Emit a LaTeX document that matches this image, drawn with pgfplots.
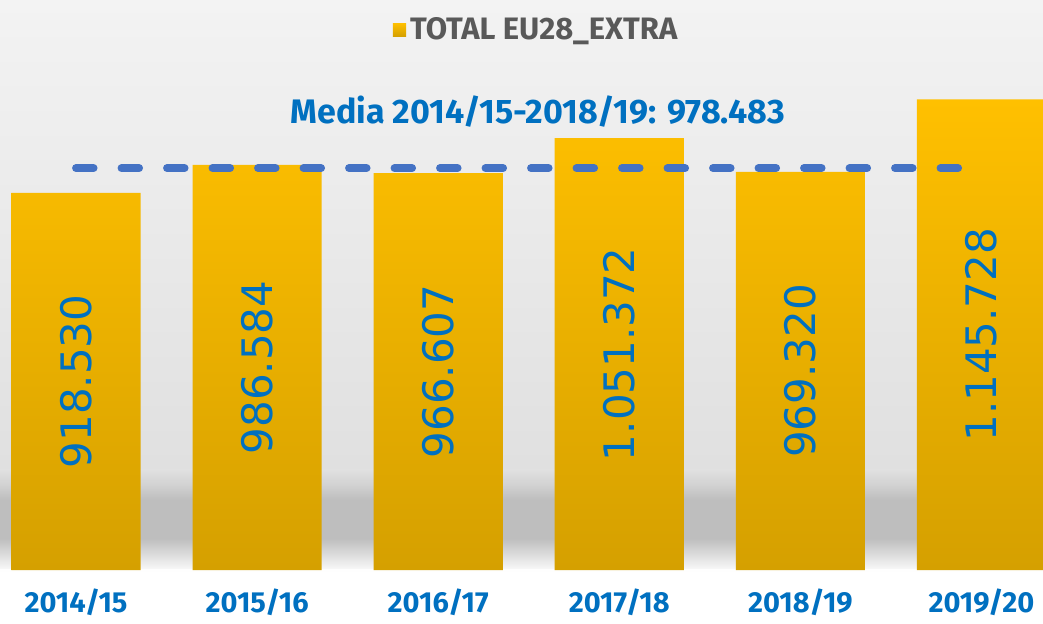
\documentclass[border=0pt]{standalone}
\usepackage{fontspec}
\setmainfont{Fira Sans}
\newfontfamily\valfont{DejaVu Sans}
\usepackage{pgfplots}
\usepackage{pgfplotstable}
\pgfplotsset{compat=1.18}
\definecolor{barTop}{RGB}{255,192,0}
\definecolor{barBot}{RGB}{213,160,0}
\definecolor{valBlue}{RGB}{0,112,192}
\definecolor{dashBlue}{RGB}{68,114,196}
\definecolor{legGray}{RGB}{89,89,89}
\definecolor{bgTop}{RGB}{243,243,243}
\definecolor{bgMid}{RGB}{224,224,224}
\definecolor{shA}{RGB}{190,190,190}
\definecolor{shC}{RGB}{210,210,210}
\definecolor{shB}{RGB}{246,246,246}
\pgfdeclareverticalshading{bgshade}{100bp}{color(0bp)=(white); color(29bp)=(white); color(37.5bp)=(bgMid); color(75bp)=(bgTop); color(100bp)=(bgTop)}
\pgfdeclareverticalshading{shadowband}{100bp}{color(0bp)=(shB); color(25bp)=(shB); color(40bp)=(shA); color(60bp)=(shA); color(67.5bp)=(shC); color(75bp)=(bgMid); color(100bp)=(bgMid)}

\pgfplotstableread{
x y label
0 918530 918.530
1 986584 986.584
2 966607 966.607
3 1051372 1.051.372
4 969320 969.320
5 1145728 1.145.728
}\datatable

\begin{document}
\begin{tikzpicture}
\shade[shading=bgshade] (0,-26.5pt) rectangle (521.5pt,285pt);
\shade[shading=shadowband] (0,1pt) rectangle (521.5pt,50pt);
\path[use as bounding box] (0,-26.5pt) rectangle (521.5pt,285pt);
\begin{axis}[
  scale only axis,
  width=521.5pt, height=285pt,
  xmin=-0.42, xmax=5.34,
  ymin=0, ymax=1388000,
  axis line style={draw=none},
  major tick length=0pt,
  ytick=\empty,
  xtick={0,1,2,3,4,5},
  xticklabels={2014/15,2015/16,2016/17,2017/18,2018/19,2019/20},
  xticklabel style={font=\fontsize{14.5}{17}\selectfont\bfseries, text=valBlue, anchor=north, yshift=-6pt},
  legend style={at={(0.515,0.948)}, anchor=center, draw=none, fill=none,
    font=\fontsize{15.5}{18}\selectfont\bfseries, text=legGray},
  legend image code/.code={\shade[top color=barTop, bottom color=barBot] (0pt,-3.3pt) rectangle (6.6pt,3.3pt);},
]
\addplot[ybar, bar width=0.713, draw=none, top color=barTop, bottom color=barBot]
  table[x=x, y=y] {\datatable};
\addlegendentry{TOTAL EU28\_EXTRA}
\addplot[forget plot, only marks, mark=none,
  nodes near coords, point meta=explicit symbolic,
  every node near coord/.style={rotate=90, anchor=center, font=\valfont\fontsize{21}{24}\selectfont, text=valBlue}]
  table[x=x, y expr=\thisrow{y}/2, meta=label] {\datatable};
\addplot[forget plot, dashBlue, line width=4pt, dash pattern=on 8.75pt off 14pt, line cap=round]
  coordinates {(0,978483) (4.95,978483)};
\node[font=\fontsize{17}{20}\selectfont\bfseries, text=valBlue] at (axis cs:2.55,1116700) {Media 2014/15-2018/19: 978.483};
\end{axis}
\end{tikzpicture}
\end{document}
